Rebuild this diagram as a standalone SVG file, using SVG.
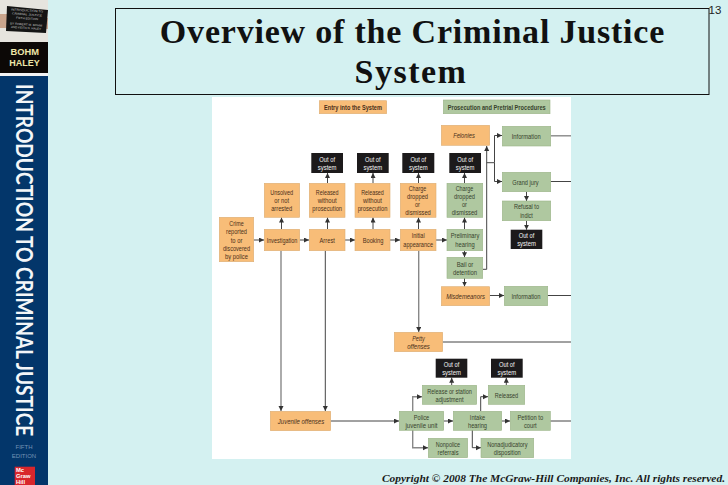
<svg xmlns="http://www.w3.org/2000/svg" width="728" height="485" viewBox="0 0 728 485">
<style>
.o{fill:#f8bd78;stroke:#dcae74;stroke-width:.6}
.g{fill:#afc8a0;stroke:#9ab488;stroke-width:.6}
.k{fill:#1c1a1b}
text{font-family:"Liberation Sans",Arial,sans-serif;font-size:8px;text-anchor:middle}
.to{fill:#4a2f18}
.tg{fill:#36422c}
.tk{fill:#f4f4f4}
.i{font-style:italic}
.b{font-weight:bold}
.c line,.c path{fill:none;stroke:#444;stroke-width:1}
.c .h{stroke:#888;stroke-width:1.4}
.c .a{marker-end:url(#ah)}
</style>
<defs>
<marker id="ah" markerUnits="userSpaceOnUse" markerWidth="6" markerHeight="6" refX="5" refY="2.500" orient="auto"><path d="M0 0L5 2.500L0 5Z" fill="#333"/></marker>
</defs>
<rect width="728" height="485" fill="#d4f1f1"/>
<g id="spine">
<rect width="48" height="485" fill="#03366a"/>
<rect width="48" height="42" fill="#e6e4de"/>
<rect y="14" width="8" height="14" fill="#c9a48c"/>
<rect x="43" y="18" width="5" height="11" fill="#c9a48c"/>
<path d="M7 6L48 10L46 33L6 31Z" fill="#141414"/>
<g style="fill:#c8c8c8">
<text transform="translate(27,11.500) rotate(4)" x="0" y="0" textLength="32" lengthAdjust="spacingAndGlyphs" style="font-size:3px">INTRODUCTION TO</text>
<text transform="translate(27,15.500) rotate(4)" x="0" y="0" textLength="30" lengthAdjust="spacingAndGlyphs" style="font-size:3px">CRIMINAL JUSTICE</text>
<text transform="translate(27,19.500) rotate(4)" x="0" y="0" textLength="22" lengthAdjust="spacingAndGlyphs" style="font-size:3px">FIFTH EDITION</text>
<text transform="translate(26,25.500) rotate(4)" x="0" y="0" textLength="32" lengthAdjust="spacingAndGlyphs" style="font-size:3px">BY ROBERT M. BOHM</text>
<text transform="translate(26,29) rotate(4)" x="0" y="0" textLength="30" lengthAdjust="spacingAndGlyphs" style="font-size:3px">AND KEITH N. HALEY</text>
</g>
<rect y="42" width="48" height="31" fill="#0c0806"/>
<rect y="73" width="48" height="3" fill="#f2f2f2"/>
<text x="24.800" y="55" textLength="28.500" lengthAdjust="spacingAndGlyphs" style="font-size:9px;font-weight:bold;fill:#efe6a8">BOHM</text>
<text x="24.600" y="66" textLength="30.500" lengthAdjust="spacingAndGlyphs" style="font-size:9px;font-weight:bold;fill:#efe6a8">HALEY</text>
<text transform="translate(16,84) rotate(90) scale(.8125,1)" x="0" y="0" style="font-family:Lato;font-size:23.500px;font-weight:bold;fill:#f4f6f8;text-anchor:start">INTRODUCTION TO CRIMINAL JUSTICE</text>
<text x="24" y="449" style="font-size:6px;fill:#7393b6">FIFTH</text>
<text x="24" y="458" style="font-size:6px;fill:#7393b6">EDITION</text>
<rect x="14.700" y="466.700" width="20.300" height="18.300" fill="#d8262c"/>
<text x="16" y="472" style="font-size:5.800px;font-weight:bold;fill:#fff;text-anchor:start">Mc</text>
<text x="16" y="477.800" style="font-size:5.800px;font-weight:bold;fill:#fff;text-anchor:start">Graw</text>
<text x="16" y="483.500" style="font-size:5.800px;font-weight:bold;fill:#fff;text-anchor:start">Hill</text>
</g>
<g id="title">
<rect x="115.500" y="8.500" width="593.500" height="86" fill="#d4f1f1" stroke="#111" stroke-width="1"/>
<text x="412.500" y="43.300" style="font-family:'Liberation Serif';font-size:34px;font-weight:bold;fill:#111;letter-spacing:.8px">Overview of the Criminal Justice</text>
<text x="411" y="83" style="font-family:'Liberation Serif';font-size:34px;font-weight:bold;fill:#111;letter-spacing:1.500px">System</text>
<text x="715" y="14" style="font-size:11.500px;fill:#222">13</text>
</g>
<rect id="panel" x="212" y="97" width="359" height="362" fill="#fff"/>
<g id="connectors" class="c">
<line class="a" x1="253.700" y1="240" x2="264" y2="240"/>
<line class="a" x1="299.700" y1="240" x2="309" y2="240"/>
<line class="a" x1="345" y1="240" x2="355" y2="240"/>
<line class="a" x1="390" y1="240" x2="400" y2="240"/>
<line class="a" x1="436" y1="240" x2="447" y2="240"/>
<line class="a" x1="281.500" y1="229" x2="281.500" y2="217.500"/>
<line class="a" x1="327.500" y1="229" x2="327.500" y2="217.500"/>
<line class="a" x1="373" y1="229" x2="373" y2="217.500"/>
<line class="a" x1="418.500" y1="229" x2="418.500" y2="217.500"/>
<line class="a" x1="464.500" y1="229" x2="464.500" y2="217.500"/>
<line class="a" x1="327.500" y1="183" x2="327.500" y2="173"/>
<line class="a" x1="373" y1="183" x2="373" y2="173"/>
<line class="a" x1="418.500" y1="183" x2="418.500" y2="173"/>
<line class="a" x1="464.500" y1="183" x2="464.500" y2="173"/>
<line class="a" x1="464.500" y1="250.700" x2="464.500" y2="257.300"/>
<line class="a" x1="464.500" y1="278" x2="464.500" y2="286.500"/>
<path class="a" d="M483 269.300H486.700V146"/>
<path class="a" d="M486.700 162.700H494.500V135.500H502"/>
<path class="a" d="M494.500 162.700V181.500H502"/>
<line x1="550.700" y1="135.800" x2="571" y2="135.800" class="h"/>
<line x1="550.700" y1="181.500" x2="571" y2="181.500"/>
<line class="a" x1="526.500" y1="191.700" x2="526.500" y2="201"/>
<line class="a" x1="526.500" y1="220.700" x2="526.500" y2="229.700"/>
<line class="a" x1="489.700" y1="295.500" x2="504" y2="295.500"/>
<line x1="547.700" y1="295.500" x2="571" y2="295.500"/>
<line class="h a" x1="418.700" y1="250.700" x2="418.700" y2="332"/>
<line x1="442.700" y1="342" x2="571" y2="342"/>
<line class="h a" x1="281" y1="250.700" x2="281" y2="411"/>
<line class="a" x1="325.300" y1="250.700" x2="325.300" y2="411"/>
<line class="a" x1="330.700" y1="421" x2="399" y2="421"/>
<line class="a" x1="443.700" y1="421" x2="453" y2="421"/>
<line class="a" x1="501.700" y1="421" x2="510" y2="421"/>
<line x1="550.300" y1="421" x2="571" y2="421"/>
<path class="h a" d="M412.700 411V396.700H422"/>
<path class="h a" d="M412.700 430V447.700H428"/>
<line class="a" x1="451.700" y1="385" x2="451.700" y2="377.700"/>
<line class="a" x1="506.300" y1="385" x2="506.300" y2="377.700"/>
<path class="a" d="M480.700 411V396.700H488"/>
<path class="a" d="M472.300 430V447.700H481"/>
</g>
<g id="hdr-entry"><rect class="o" x="319.300" y="100.700" width="67.400" height="13"/><text class="to b" x="353" y="110" textLength="58" lengthAdjust="spacingAndGlyphs">Entry into the System</text></g>
<g id="hdr-pros"><rect class="g" x="443.300" y="100" width="106.700" height="13.700"/><text class="tg b" x="496.700" y="109.800" textLength="98" lengthAdjust="spacingAndGlyphs">Prosecution and Pretrial Procedures</text></g>
<g id="out1"><rect class="k" x="311.300" y="153" width="31.700" height="20"/><text class="tk" x="327.200" y="161.500" textLength="15.700" lengthAdjust="spacingAndGlyphs">Out of</text><text class="tk" x="327.200" y="169.500" textLength="18.700" lengthAdjust="spacingAndGlyphs">system</text></g>
<g id="out2"><rect class="k" x="357" y="153" width="31.700" height="20"/><text class="tk" x="372.800" y="161.500" textLength="15.700" lengthAdjust="spacingAndGlyphs">Out of</text><text class="tk" x="372.800" y="169.500" textLength="18.700" lengthAdjust="spacingAndGlyphs">system</text></g>
<g id="out3"><rect class="k" x="402.300" y="153" width="32" height="20"/><text class="tk" x="418.300" y="161.500" textLength="15.700" lengthAdjust="spacingAndGlyphs">Out of</text><text class="tk" x="418.300" y="169.500" textLength="18.700" lengthAdjust="spacingAndGlyphs">system</text></g>
<g id="out4"><rect class="k" x="449.300" y="153" width="31.700" height="20"/><text class="tk" x="465.200" y="161.500" textLength="15.700" lengthAdjust="spacingAndGlyphs">Out of</text><text class="tk" x="465.200" y="169.500" textLength="18.700" lengthAdjust="spacingAndGlyphs">system</text></g>
<g id="unsolved"><rect class="o" x="264.300" y="183.300" width="35.400" height="34"/><text class="to" x="281.700" y="195" textLength="23" lengthAdjust="spacingAndGlyphs">Unsolved</text><text class="to" x="281.700" y="203" textLength="14.700" lengthAdjust="spacingAndGlyphs">or not</text><text class="to" x="281.700" y="210.500" textLength="21" lengthAdjust="spacingAndGlyphs">arrested</text></g>
<g id="released1"><rect class="o" x="309.300" y="183.300" width="35.700" height="34"/><text class="to" x="327.200" y="195" textLength="22.700" lengthAdjust="spacingAndGlyphs">Released</text><text class="to" x="327.200" y="203" textLength="19" lengthAdjust="spacingAndGlyphs">without</text><text class="to" x="327.200" y="210.500" textLength="29.700" lengthAdjust="spacingAndGlyphs">prosecution</text></g>
<g id="released2"><rect class="o" x="355" y="183.300" width="35" height="34"/><text class="to" x="372.500" y="195" textLength="22.700" lengthAdjust="spacingAndGlyphs">Released</text><text class="to" x="372.500" y="203" textLength="19" lengthAdjust="spacingAndGlyphs">without</text><text class="to" x="372.500" y="210.500" textLength="29.700" lengthAdjust="spacingAndGlyphs">prosecution</text></g>
<g id="charge1"><rect class="o" x="400.300" y="183.300" width="35.700" height="34"/><text class="to" x="417.500" y="191" textLength="17.700" lengthAdjust="spacingAndGlyphs">Charge</text><text class="to" x="417.500" y="199" textLength="21" lengthAdjust="spacingAndGlyphs">dropped</text><text class="to" x="417.500" y="207" textLength="5" lengthAdjust="spacingAndGlyphs">or</text><text class="to" x="418" y="215" textLength="25.700" lengthAdjust="spacingAndGlyphs">dismissed</text></g>
<g id="charge2"><rect class="g" x="447" y="183.300" width="35.700" height="34"/><text class="tg" x="464.500" y="191" textLength="17.700" lengthAdjust="spacingAndGlyphs">Charge</text><text class="tg" x="464.500" y="199" textLength="21" lengthAdjust="spacingAndGlyphs">dropped</text><text class="tg" x="464.500" y="207" textLength="5" lengthAdjust="spacingAndGlyphs">or</text><text class="tg" x="464.500" y="215" textLength="25.700" lengthAdjust="spacingAndGlyphs">dismissed</text></g>
<g id="crime"><rect class="o" x="219.300" y="217.300" width="34.400" height="44.400"/><text class="to" x="236.500" y="226" textLength="14.300" lengthAdjust="spacingAndGlyphs">Crime</text><text class="to" x="236.500" y="234.300" textLength="21" lengthAdjust="spacingAndGlyphs">reported</text><text class="to" x="236.500" y="242.500" textLength="11.700" lengthAdjust="spacingAndGlyphs">to or</text><text class="to" x="236.500" y="250.800" textLength="27" lengthAdjust="spacingAndGlyphs">discovered</text><text class="to" x="236.500" y="258.500" textLength="23" lengthAdjust="spacingAndGlyphs">by police</text></g>
<g id="investigation"><rect class="o" x="264.300" y="229.300" width="35.400" height="21.400"/><text class="to" x="282" y="242.500" textLength="30.700" lengthAdjust="spacingAndGlyphs">Investigation</text></g>
<g id="arrest"><rect class="o" x="309.300" y="229.300" width="35.700" height="21.400"/><text class="to" x="327.200" y="242.500" textLength="15.300" lengthAdjust="spacingAndGlyphs">Arrest</text></g>
<g id="booking"><rect class="o" x="355" y="229.300" width="35" height="21.400"/><text class="to" x="373" y="242.500" textLength="20.700" lengthAdjust="spacingAndGlyphs">Booking</text></g>
<g id="initial"><rect class="o" x="400.300" y="229.300" width="35.700" height="21.400"/><text class="to" x="418.200" y="238" textLength="13" lengthAdjust="spacingAndGlyphs">Initial</text><text class="to" x="418.200" y="246.500" textLength="29.700" lengthAdjust="spacingAndGlyphs">appearance</text></g>
<g id="prelim"><rect class="g" x="447" y="229.300" width="35.700" height="21.400"/><text class="tg" x="465" y="238" textLength="28.700" lengthAdjust="spacingAndGlyphs">Preliminary</text><text class="tg" x="465" y="246.500" textLength="19.300" lengthAdjust="spacingAndGlyphs">hearing</text></g>
<g id="bail"><rect class="g" x="447" y="257.300" width="35.700" height="21"/><text class="tg" x="465" y="267" textLength="16.700" lengthAdjust="spacingAndGlyphs">Bail or</text><text class="tg" x="465" y="275" textLength="24" lengthAdjust="spacingAndGlyphs">detention</text></g>
<g id="felonies"><rect class="o" x="441.300" y="125.300" width="48.400" height="20"/><text class="to i" x="464" y="138" textLength="21.700" lengthAdjust="spacingAndGlyphs">Felonies</text></g>
<g id="info1"><rect class="g" x="502.300" y="126.300" width="48.400" height="19.700"/><text class="tg" x="526.200" y="138.500" textLength="29" lengthAdjust="spacingAndGlyphs">Information</text></g>
<g id="grandjury"><rect class="g" x="502.300" y="172.300" width="48.400" height="19.400"/><text class="tg" x="525.500" y="185" textLength="26.300" lengthAdjust="spacingAndGlyphs">Grand jury</text></g>
<g id="refusal"><rect class="g" x="502.300" y="201" width="48.400" height="19.700"/><text class="tg" x="526.500" y="209" textLength="25" lengthAdjust="spacingAndGlyphs">Refusal to</text><text class="tg" x="526.500" y="217.500" textLength="12.700" lengthAdjust="spacingAndGlyphs">indict</text></g>
<g id="out5"><rect class="k" x="510.700" y="229.700" width="31.600" height="19.300"/><text class="tk" x="526.500" y="238" textLength="15.700" lengthAdjust="spacingAndGlyphs">Out of</text><text class="tk" x="526.500" y="246" textLength="18.700" lengthAdjust="spacingAndGlyphs">system</text></g>
<g id="misdemeanors"><rect class="o" x="441.300" y="286.700" width="48.400" height="19"/><text class="to i" x="465.500" y="298.500" textLength="38.700" lengthAdjust="spacingAndGlyphs">Misdemeanors</text></g>
<g id="info2"><rect class="g" x="504.300" y="286.300" width="43.400" height="19.400"/><text class="tg" x="526" y="298.500" textLength="29" lengthAdjust="spacingAndGlyphs">Information</text></g>
<g id="petty"><rect class="o" x="394.300" y="332.300" width="48.400" height="19.400"/><text class="to i" x="418.500" y="340.500" textLength="12.700" lengthAdjust="spacingAndGlyphs">Petty</text><text class="to i" x="418.500" y="348.500" textLength="22.700" lengthAdjust="spacingAndGlyphs">offenses</text></g>
<g id="out6"><rect class="k" x="435.700" y="358.700" width="31.600" height="19"/><text class="tk" x="451.500" y="366.800" textLength="15.700" lengthAdjust="spacingAndGlyphs">Out of</text><text class="tk" x="451.500" y="374.800" textLength="18.700" lengthAdjust="spacingAndGlyphs">system</text></g>
<g id="out7"><rect class="k" x="491" y="358.700" width="31.700" height="19"/><text class="tk" x="506.800" y="366.800" textLength="15.700" lengthAdjust="spacingAndGlyphs">Out of</text><text class="tk" x="506.800" y="374.800" textLength="18.700" lengthAdjust="spacingAndGlyphs">system</text></g>
<g id="release"><rect class="g" x="422.300" y="385.300" width="54.400" height="19"/><text class="tg" x="449.500" y="393.500" textLength="44.700" lengthAdjust="spacingAndGlyphs">Release or station</text><text class="tg" x="449.500" y="401.500" textLength="28" lengthAdjust="spacingAndGlyphs">adjustment</text></g>
<g id="released3"><rect class="g" x="488.300" y="385.300" width="36.400" height="19"/><text class="tg" x="506.500" y="397.500" textLength="23.300" lengthAdjust="spacingAndGlyphs">Released</text></g>
<g id="juvenile"><rect class="o" x="270.300" y="411.300" width="60.400" height="19.400"/><text class="to i" x="301" y="423.500" textLength="46.300" lengthAdjust="spacingAndGlyphs">Juvenile offenses</text></g>
<g id="police"><rect class="g" x="399.300" y="411.300" width="44.400" height="19"/><text class="tg" x="421.500" y="420" textLength="15.300" lengthAdjust="spacingAndGlyphs">Police</text><text class="tg" x="421.500" y="428" textLength="32" lengthAdjust="spacingAndGlyphs">juvenile unit</text></g>
<g id="intake"><rect class="g" x="453.300" y="411.300" width="48.400" height="19"/><text class="tg" x="477.500" y="420" textLength="15.300" lengthAdjust="spacingAndGlyphs">Intake</text><text class="tg" x="477.500" y="428" textLength="19" lengthAdjust="spacingAndGlyphs">hearing</text></g>
<g id="petition"><rect class="g" x="510.300" y="411.300" width="40" height="19"/><text class="tg" x="530.300" y="420" textLength="25.700" lengthAdjust="spacingAndGlyphs">Petition to</text><text class="tg" x="530.300" y="428" textLength="12.700" lengthAdjust="spacingAndGlyphs">court</text></g>
<g id="nonpolice"><rect class="g" x="428.300" y="438.300" width="39.400" height="19.400"/><text class="tg" x="448" y="446.500" textLength="24.300" lengthAdjust="spacingAndGlyphs">Nonpolice</text><text class="tg" x="448" y="454.500" textLength="21" lengthAdjust="spacingAndGlyphs">referrals</text></g>
<g id="nonadj"><rect class="g" x="481" y="438.300" width="52.700" height="19.400"/><text class="tg" x="507.300" y="446.500" textLength="40.300" lengthAdjust="spacingAndGlyphs">Nonadjudicatory</text><text class="tg" x="507.300" y="454.500" textLength="27" lengthAdjust="spacingAndGlyphs">disposition</text></g>
<text x="553.500" y="481.700" textLength="343" lengthAdjust="spacingAndGlyphs" style="font-family:'Liberation Serif';font-size:11px;font-weight:bold;font-style:italic;fill:#1a1a1a">Copyright © 2008 The McGraw-Hill Companies, Inc. All rights reserved.</text>
</svg>
